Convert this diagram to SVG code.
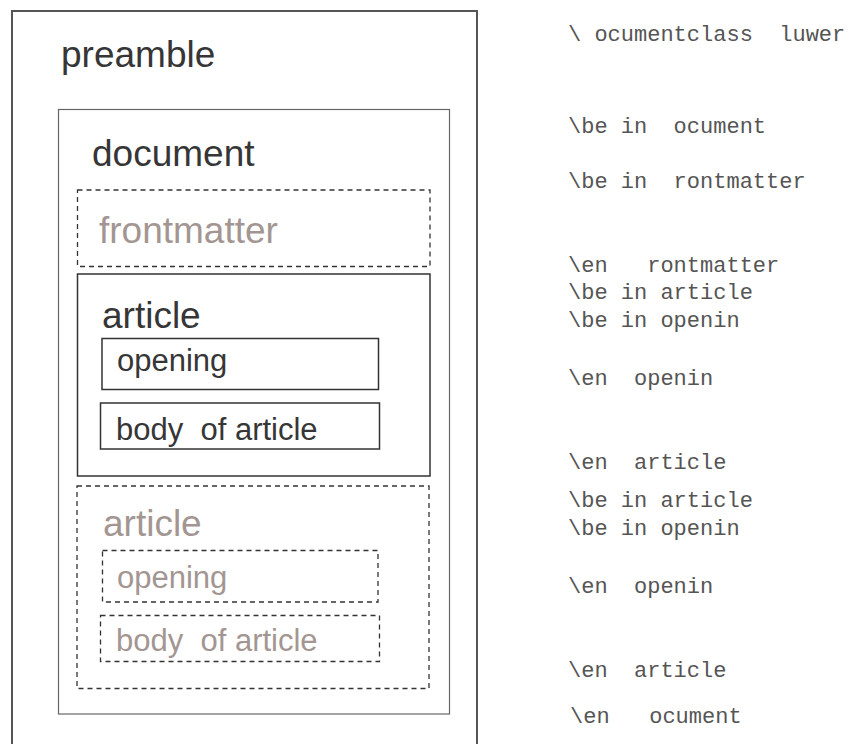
<svg xmlns="http://www.w3.org/2000/svg" width="851" height="744" viewBox="0 0 851 744">
<style>
.bg{fill:#ffffff}
.box{fill:none}
.outer{stroke:#555555;stroke-width:2}
.doc{stroke:#666666;stroke-width:1.2}
.solid{stroke:#333333;stroke-width:1.5}
.dash{stroke:#333333;stroke-width:1.3;stroke-dasharray:5 4}
.lbl{font-family:"Liberation Sans",Arial,sans-serif;white-space:pre}
.dark{fill:#363636}
.mauve{fill:#a39692}
.big{font-size:37px}
.sm{font-size:31px}
.code{font-family:"Liberation Mono","Courier New",monospace;font-size:22px;fill:#555555;white-space:pre}
</style>
<rect class="bg" x="0" y="0" width="851" height="744"/>
<g id="preamble">
<path class="box outer" d="M12,745 V11 H477 V745"/>
<text class="lbl dark big" x="61" y="67">preamble</text>
</g>
<g id="document">
<rect class="box doc" x="58.5" y="109.5" width="391" height="604.5"/>
<text class="lbl dark big" x="92" y="166">document</text>
</g>
<g id="frontmatter">
<rect class="box dash" x="77.5" y="190" width="352.5" height="76.5"/>
<text class="lbl mauve big" x="99" y="243">frontmatter</text>
</g>
<g id="article1">
<rect class="box solid" x="77.5" y="274" width="352.5" height="202"/>
<text class="lbl dark big" x="102" y="328">article</text>
</g>
<g id="opening1">
<rect class="box solid" x="102" y="338.5" width="276.5" height="51"/>
<text class="lbl dark sm" x="117" y="371">opening</text>
</g>
<g id="body1">
<rect class="box solid" x="100.5" y="403" width="279" height="46"/>
<text class="lbl dark sm" x="116" y="440">body  of article</text>
</g>
<g id="article2">
<rect class="box dash" x="77" y="486" width="352" height="202.5"/>
<text class="lbl mauve big" x="103" y="536">article</text>
</g>
<g id="opening2">
<rect class="box dash" x="102.5" y="550.5" width="275.5" height="51.5"/>
<text class="lbl mauve sm" x="117" y="588">opening</text>
</g>
<g id="body2">
<rect class="box dash" x="100.5" y="615.5" width="279" height="46"/>
<text class="lbl mauve sm" x="116" y="651">body  of article</text>
</g>
<g id="code">
<text class="code" x="568" y="41">\ ocumentclass  luwer</text>
<text class="code" x="568" y="133">\be in  ocument</text>
<text class="code" x="568" y="188">\be in  rontmatter</text>
<text class="code" x="568" y="272">\en   rontmatter</text>
<text class="code" x="568" y="299">\be in article</text>
<text class="code" x="568" y="327">\be in openin</text>
<text class="code" x="568" y="385">\en  openin</text>
<text class="code" x="568" y="469">\en  article</text>
<text class="code" x="568" y="507">\be in article</text>
<text class="code" x="568" y="535">\be in openin</text>
<text class="code" x="568" y="593">\en  openin</text>
<text class="code" x="568" y="677">\en  article</text>
<text class="code" x="570" y="723">\en   ocument</text>
</g>
<g id="connectors"></g>
</svg>
